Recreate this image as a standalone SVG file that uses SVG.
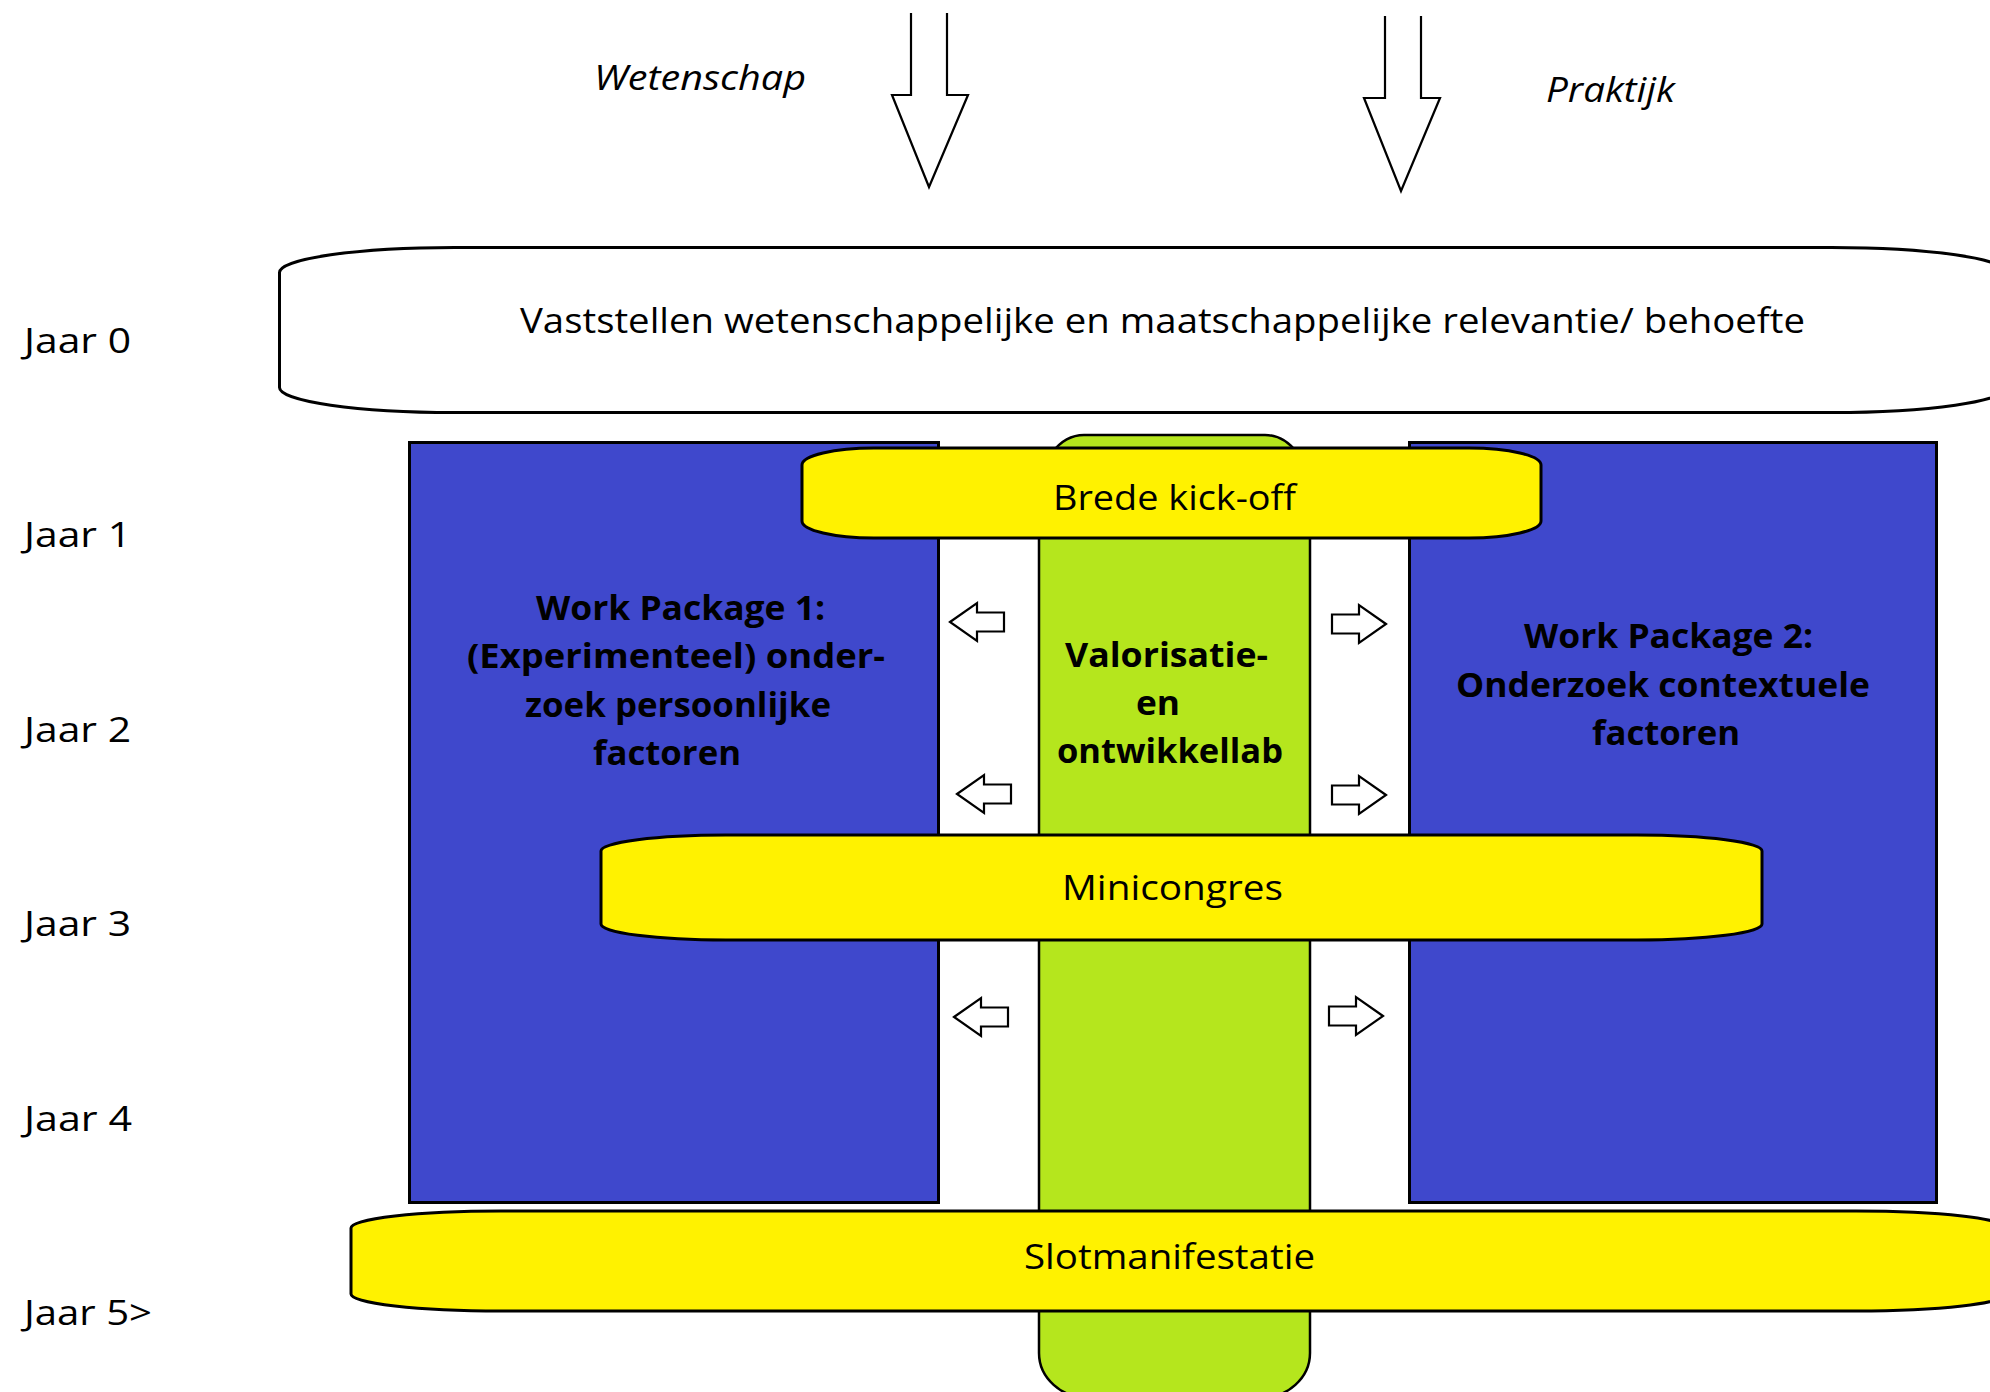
<svg xmlns="http://www.w3.org/2000/svg" width="1990" height="1392" viewBox="0 0 1990 1392">
<defs>
<style>
text{font-family:"Open Sans","Liberation Sans",sans-serif;font-size:34px;fill:#000}
.b{font-weight:bold}
.i{font-style:italic}
.blue{fill:#3F48CC;stroke:#000;stroke-width:3}
.yel{fill:#FFF200;stroke:#000;stroke-width:3}
.arr{fill:#fff;stroke:#000;stroke-width:2.2;stroke-linejoin:miter}
.big{fill:none;stroke:#000;stroke-width:2.2}
</style>
<path id="la" d="M0,0 L27,-19 L27,-9.5 L54,-9.5 L54,9.5 L27,9.5 L27,19 Z"/>
</defs>
<rect width="1990" height="1392" fill="#fff"/>

<g id="jaar-labels">
<text x="24" y="353" textLength="107" lengthAdjust="spacingAndGlyphs">Jaar 0</text>
<text x="24" y="547" textLength="107" lengthAdjust="spacingAndGlyphs">Jaar 1</text>
<text x="24" y="742" textLength="107" lengthAdjust="spacingAndGlyphs">Jaar 2</text>
<text x="24" y="936" textLength="107" lengthAdjust="spacingAndGlyphs">Jaar 3</text>
<text x="24" y="1131" textLength="108" lengthAdjust="spacingAndGlyphs">Jaar 4</text>
<text x="24" y="1325" textLength="128" lengthAdjust="spacingAndGlyphs">Jaar 5&gt;</text>
</g>

<g id="wetenschap">
<text class="i" x="594" y="90" textLength="212" lengthAdjust="spacingAndGlyphs">Wetenschap</text>
</g>
<g id="praktijk">
<text class="i" x="1546" y="102" textLength="129" lengthAdjust="spacingAndGlyphs">Praktijk</text>
</g>

<g id="relevantie">
<rect x="279.5" y="247.5" width="1727" height="165" rx="175" ry="25" fill="#fff" stroke="#000" stroke-width="3"/>
<text x="520" y="333" textLength="1285" lengthAdjust="spacingAndGlyphs">Vaststellen wetenschappelijke en maatschappelijke relevantie/ behoefte</text>
</g>

<g id="wp1">
<rect class="blue" x="409.5" y="442.5" width="529" height="760"/>
<text class="b" x="536" y="620" textLength="289" lengthAdjust="spacingAndGlyphs">Work Package 1:</text>
<text class="b" x="467" y="668" textLength="418" lengthAdjust="spacingAndGlyphs">(Experimenteel) onder-</text>
<text class="b" x="525" y="717" textLength="306" lengthAdjust="spacingAndGlyphs">zoek persoonlijke</text>
<text class="b" x="593" y="765" textLength="148" lengthAdjust="spacingAndGlyphs">factoren</text>
</g>

<g id="wp2">
<rect class="blue" x="1409.5" y="442.5" width="527" height="760"/>
<text class="b" x="1524" y="648" textLength="289" lengthAdjust="spacingAndGlyphs">Work Package 2:</text>
<text class="b" x="1456" y="697" textLength="414" lengthAdjust="spacingAndGlyphs">Onderzoek contextuele</text>
<text class="b" x="1592" y="745" textLength="148" lengthAdjust="spacingAndGlyphs">factoren</text>
</g>

<g id="valorisatielab">
<path d="M1039,1353 L1039,495 A45,60 0 0 1 1084,435 L1265,435 A45,60 0 0 1 1310,495 L1310,1353 A50,45 0 0 1 1260,1398 L1089,1398 A50,45 0 0 1 1039,1353 Z" fill="#B5E61D" stroke="#000" stroke-width="2.5"/>
<text class="b" x="1065" y="667" textLength="203" lengthAdjust="spacingAndGlyphs">Valorisatie-</text>
<text class="b" x="1136" y="715" textLength="44" lengthAdjust="spacingAndGlyphs">en</text>
<text class="b" x="1057" y="763" textLength="226" lengthAdjust="spacingAndGlyphs">ontwikkellab</text>
</g>

<g id="kickoff">
<rect class="yel" x="802" y="448" width="739" height="90" rx="72" ry="17"/>
<text x="1053" y="510" textLength="243" lengthAdjust="spacingAndGlyphs">Brede kick-off</text>
</g>

<g id="minicongres">
<rect class="yel" x="601" y="835" width="1161" height="105" rx="125" ry="16"/>
<text x="1062" y="900" textLength="221" lengthAdjust="spacingAndGlyphs">Minicongres</text>
</g>

<g id="slotmanifestatie">
<rect class="yel" x="351" y="1211" width="1655" height="100" rx="150" ry="17"/>
<text x="1024" y="1269" textLength="291" lengthAdjust="spacingAndGlyphs">Slotmanifestatie</text>
</g>

<g id="connectors">
<path class="big" d="M911,13 L911,95 L892,95 L929,187 L968,95 L947,95 L947,13"/>
<path class="big" d="M1385,16 L1385,98 L1364,98 L1401,191 L1440,98 L1421,98 L1421,16"/>
<use href="#la" class="arr" transform="translate(950,622)"/>
<use href="#la" class="arr" transform="translate(957,794)"/>
<use href="#la" class="arr" transform="translate(954,1017)"/>
<use href="#la" class="arr" transform="translate(1386,624) scale(-1,1)"/>
<use href="#la" class="arr" transform="translate(1386,795) scale(-1,1)"/>
<use href="#la" class="arr" transform="translate(1383,1016) scale(-1,1)"/>
</g>
</svg>
